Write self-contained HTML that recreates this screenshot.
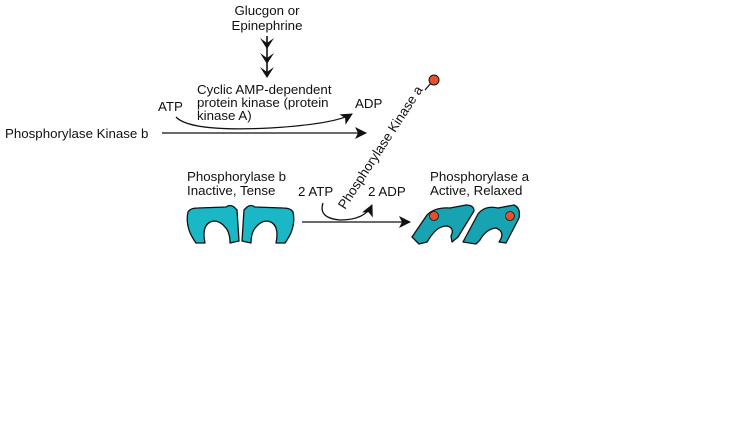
<!DOCTYPE html>
<html><head><style>
html,body{margin:0;padding:0;background:#fff;}
svg{display:block;font-family:"Liberation Sans",sans-serif;}
text{font-size:13.3px;fill:#111;}
</style></head><body>
<svg width="732" height="425" viewBox="0 0 732 425" xmlns="http://www.w3.org/2000/svg">
<defs>
<marker id="ah" markerWidth="12" markerHeight="12" refX="11" refY="6" orient="auto" markerUnits="userSpaceOnUse">
<path d="M0,0 L12,6 L0,12 L3,6 Z" fill="#111"/></marker>
</defs>
<text x="267" y="15" text-anchor="middle">Glucgon or</text>
<text x="267" y="30" text-anchor="middle">Epinephrine</text>
<line x1="267" y1="36" x2="267" y2="74" stroke="#111" stroke-width="1.6"/>
<g fill="#111">
<path d="M260,38 L267,49 L274,38 L267,43 Z"/>
<path d="M260,53 L267,64 L274,53 L267,58 Z"/>
<path d="M260,67 L267,78 L274,67 L267,72 Z"/>
</g>
<text x="197" y="94">Cyclic AMP-dependent</text>
<text x="197" y="107">protein kinase (protein</text>
<text x="197" y="120">kinase A)</text>
<text x="158" y="111">ATP</text>
<text x="355" y="108">ADP</text>
<path d="M176,117 Q190,132 270,128 Q335,124 352,114" fill="none" stroke="#111" stroke-width="1.3" marker-end="url(#ah)"/>
<text x="5" y="138">Phosphorylase Kinase b</text>
<line x1="162" y1="133" x2="366" y2="133" stroke="#111" stroke-width="1.3" marker-end="url(#ah)"/>
<text transform="translate(345,210) rotate(-57)" x="0" y="0">Phosphorylase Kinase a</text>
<line x1="425" y1="90" x2="431" y2="83" stroke="#111" stroke-width="1.3"/>
<circle cx="434" cy="80" r="5" fill="#e8502a" stroke="#111" stroke-width="1"/>
<text x="187" y="181">Phosphorylase b</text>
<text x="187" y="195">Inactive, Tense</text>
<text x="298" y="196">2 ATP</text>
<text x="368" y="196">2 ADP</text>
<path d="M323,203 Q318,218 340,220 Q365,220 372,205" fill="none" stroke="#111" stroke-width="1.3" marker-end="url(#ah)"/>
<text x="430" y="181">Phosphorylase a</text>
<text x="430" y="195">Active, Relaxed</text>
<line x1="302" y1="222" x2="410" y2="222" stroke="#111" stroke-width="1.3" marker-end="url(#ah)"/>
<g fill="#1ab7c7" stroke="#111" stroke-width="1.3" stroke-linejoin="round">
<path id="u" d="M188,212 Q190,208 198,208 L226,207 Q230,204 234,207 L237,210 L239,241 L230,243 Q230,232 225,227 Q220,221 214,221 Q207,222 205,228 Q203,234 205,243 L196,243 Q191,236 189,230 Q186,220 188,212 Z"/>
<path transform="translate(481,0) scale(-1,1)" d="M188,212 Q190,208 198,208 L226,207 Q230,204 234,207 L237,210 L239,241 L230,243 Q230,232 225,227 Q220,221 214,221 Q207,222 205,228 Q203,234 205,243 L196,243 Q191,236 189,230 Q186,220 188,212 Z"/>
</g>
<g fill="#17a3b2" stroke="#111" stroke-width="1.3" stroke-linejoin="round">
<path d="M412,237 L427,215 Q435,207 450,208 L466,205 Q474,205 474,211 L458,237 L452,242 L451,236 Q455,228 447,226 Q438,226 431,236 L427,242 L419,244 Z"/>
<path d="M463,242 L478,214 Q485,205 498,208 L514,205 Q521,208 519,218 L506,243 L499,242 Q506,232 496,228 Q486,229 480,240 L476,244 Z"/>
</g>
<circle cx="434" cy="216" r="4.5" fill="#e8502a" stroke="#111" stroke-width="0.8"/>
<circle cx="510" cy="216" r="4.5" fill="#e8502a" stroke="#111" stroke-width="0.8"/>
</svg>
</body></html>
